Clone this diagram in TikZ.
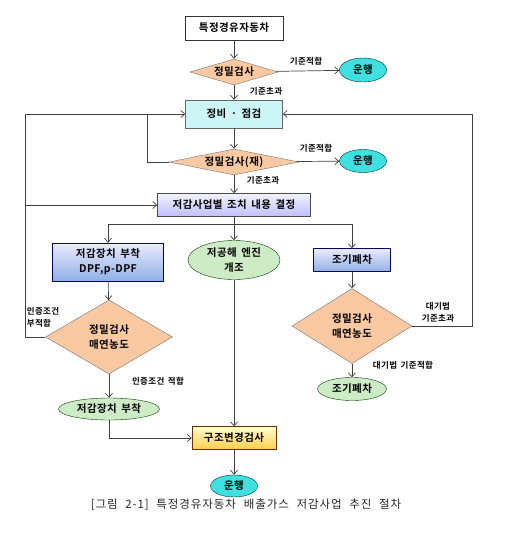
\documentclass[tikz,border=0pt]{standalone}
\usepackage{fontspec}
\setmainfont{Noto Sans CJK KR}
\newfontfamily\nodefont{Noto Sans CJK KR}[BoldFont={Noto Sans CJK KR Bold},LetterSpace=4,WordSpace=1.6]
\newfontfamily\capfont{Noto Sans CJK KR}[LetterSpace=8,WordSpace=2.2]
\usetikzlibrary{shapes.geometric,arrows.meta}
\definecolor{peach}{HTML}{FAC9A2}
\definecolor{turq}{HTML}{3EE0E0}
\definecolor{mint}{HTML}{CDEBC5}
\definecolor{icecyan}{HTML}{CCF6F6}
\definecolor{midblue}{HTML}{8FB0E6}
\begin{document}
\begin{tikzpicture}[x=1pt,y=-1pt,
    every node/.style={inner sep=0pt,font=\nodefont\bfseries\fontsize{10.5}{15}\selectfont},
    line/.style={draw=black!75,line width=0.7pt},
    arr/.style={line,-{Straight Barb[length=4pt,width=7pt]}},
    plainbox/.style={rectangle,draw=black!80,fill=white},
    fixbox/.style={rectangle,draw=black!60,fill=icecyan},
    decbox/.style={rectangle,draw=black!70,top color=blue!5,bottom color=blue!25},
    bluebox/.style={rectangle,draw=blue!40!black,top color=blue!8,bottom color=midblue},
    yellowbox/.style={rectangle,draw=orange!40!black,top color=yellow!20,bottom color=orange!55!yellow!70},
    dia/.style={diamond,draw=black!55,fill=peach,align=center},
    runell/.style={ellipse,draw=teal!40!black,fill=turq},
    greenell/.style={ellipse,draw=green!25!black,fill=mint,align=center},
    lbl/.style={font=\nodefont\bfseries\fontsize{8.5}{12}\selectfont}]
    \useasboundingbox (0,0) rectangle (526,536);
    % main column
    \node[plainbox,minimum width=98,minimum height=24] (car) at (234,28) {특정경유자동차};
    \node[dia,aspect=3.4,minimum width=88,minimum height=26] (chk1) at (234,72) {정밀검사};
    \node[runell,minimum width=47,minimum height=24] (run1) at (363,70) {운행};
    \node[fixbox,minimum width=97,minimum height=28] (fix) at (234,114) {정비 · 점검};
    \node[dia,aspect=5,minimum width=130,minimum height=26] (chk2) at (234,162) {정밀검사(재)};
    \node[runell,minimum width=47,minimum height=23] (run2) at (363,161) {운행};
    \node[decbox,minimum width=153,minimum height=23] (decide) at (234,205) {저감사업별 조치 내용 결정};
    % three branches
    \coordinate (busL) at (108,224);
    \coordinate (busM) at (234,224);
    \coordinate (busR) at (352,224);
    \node[bluebox,minimum width=111,minimum height=38,align=center] (dpf) at (108,262) {저감장치 부착\\DPF,p-DPF};
    \node[greenell,minimum width=92,minimum height=39] (engine) at (234,260) {저공해 엔진\\개조};
    \node[bluebox,minimum width=77,minimum height=23] (scrap) at (352,260) {조기폐차};
    \node[dia,aspect=1.7,minimum width=127,minimum height=74] (chk3) at (109,337) {정밀검사\\매연농도};
    \node[dia,aspect=1.6,minimum width=120,minimum height=75] (chk4) at (352,326) {정밀검사\\매연농도};
    \node[greenell,minimum width=101,minimum height=22] (fitted) at (109,409) {저감장치 부착};
    \node[greenell,minimum width=69,minimum height=23] (scrapped) at (352,389) {조기폐차};
    \node[yellowbox,minimum width=84,minimum height=23] (remodel) at (234,438) {구조변경검사};
    \node[runell,minimum width=47,minimum height=22] (run3) at (234,486) {운행};
    % loops
    \coordinate (leftTop) at (25,114);
    \coordinate (leftBot) at (25,337);
    \coordinate (innerTop) at (147,114);
    \coordinate (rightTop) at (472,114);
    % connectors
    \draw[arr] (car) -- (chk1);
    \draw[arr] (chk1) -- (run1);
    \draw[arr] (chk1) -- (fix);
    \draw[arr] (fix) -- (chk2);
    \draw[arr] (chk2) -- (run2);
    \draw[arr] (chk2) -- (decide);
    \draw[line] (chk2.west) -| (innerTop);
    \draw[arr] (chk3.west) -- (leftBot) -- (leftTop) -- (fix.west);
    \draw[arr] (decide.west -| leftTop) -- (decide.west);
    \draw[arr] (chk4.east) -| (rightTop) -- (fix.east);
    \draw[line] (decide) -- (busM);
    \draw[line] (busL) -- (busR);
    \draw[arr] (busL) -- (dpf);
    \draw[arr] (busM) -- (engine);
    \draw[arr] (busR) -- (scrap);
    \draw[arr] (dpf) -- (chk3);
    \draw[arr] (chk3) -- (fitted);
    \draw[arr] (fitted.south) |- (remodel.west);
    \draw[arr] (engine) -- (remodel);
    \draw[arr] (remodel) -- (run3);
    \draw[arr] (scrap) -- (chk4);
    \draw[arr] (chk4) -- (scrapped);
    % labels
    \node[lbl] (okA) at (306,61) {기준적합};
    \node[lbl] (overA) at (266,91) {기준초과};
    \node[lbl] (okB) at (316,148) {기준적합};
    \node[lbl] (overB) at (263,180) {기준초과};
    \node[lbl,align=left] (failC) at (43,317) {인증조건\\부적합};
    \node[lbl] (passC) at (158,381) {인증조건 적합};
    \node[lbl,align=center] (overD) at (438,312) {대기법\\기준초과};
    \node[lbl] (passD) at (403,365) {대기법 기준적합};
    % caption
    \node[font=\capfont\fontsize{11.5}{13}\selectfont,text=black!85] (caption) at (246,505) {[그림 2-1] 특정경유자동차 배출가스 저감사업 추진 절차};
\end{tikzpicture}
\end{document}
